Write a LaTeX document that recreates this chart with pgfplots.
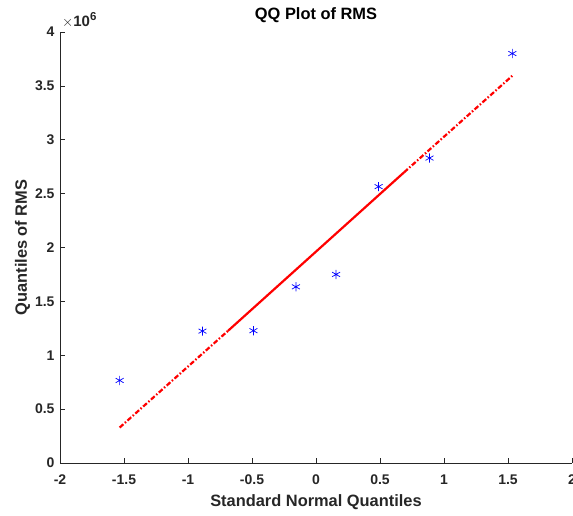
\documentclass[border=0pt]{standalone}
\usepackage{fontspec}
\setmainfont{Liberation Sans}
\usepackage{pgfplots}
\pgfplotsset{compat=1.18}
\definecolor{axgray}{RGB}{38,38,38}
\begin{document}
\begin{tikzpicture}[x=1pt,y=1pt]
\useasboundingbox (0,0) rectangle (573,516);
\begin{axis}[
  at={(60pt,53pt)}, anchor=south west,
  scale only axis, width=512pt, height=431pt,
  xmin=-2, xmax=2, ymin=0, ymax=4,
  axis x line*=bottom, axis y line*=left,
  axis line style={axgray, line width=0.6pt},
  tick style={axgray, line width=0.6pt},
  tick align=inside, major tick length=5pt,
  xtick={-2,-1.5,-1,-0.5,0,0.5,1,1.5,2},
  xticklabels={-2,-1.5,-1,-0.5,0,0.5,1,1.5,2},
  ytick={0,0.5,1,1.5,2,2.5,3,3.5,4},
  yticklabels={0,0.5,1,1.5,2,2.5,3,3.5,4},
  ticklabel style={font=\bfseries\fontsize{14}{14}\selectfont, text=axgray},
  xticklabel style={yshift=-8pt},
  yticklabel style={xshift=-2pt},
  title={QQ Plot of RMS},
  title style={font=\bfseries\fontsize{16.4}{16.4}\selectfont, text=black, at={(axis description cs:0.5,1)}, anchor=base, yshift=6pt},
  xlabel={Standard Normal Quantiles},
  ylabel={Quantiles of RMS},
  label style={font=\bfseries\fontsize{16.4}{16.4}\selectfont, text=axgray},
  xlabel style={at={(axis description cs:0.5,0)}, anchor=base, yshift=-43.5pt},
  ylabel style={at={(axis description cs:-0.0645,0.5)}, anchor=base, rotate=0},
  clip=false,
]
\addplot[only marks, mark=asterisk, mark size=4.6pt, color=blue, mark options={line width=0.7pt}] coordinates {
(-1.534,0.766) (-0.887,1.224) (-0.489,1.228) (-0.157,1.635) (0.157,1.75) (0.489,2.565) (0.887,2.83) (1.534,3.80)
};
\addplot[red, line width=2.2pt] coordinates {(-0.688,1.226) (0.688,2.6975)};
\addplot[red, line width=2.2pt, dash pattern=on 5pt off 2pt on 1.5pt off 2pt] coordinates {(-1.534,0.329) (-0.688,1.226)};
\addplot[red, line width=2.2pt, dash pattern=on 5pt off 2pt on 1.5pt off 2pt] coordinates {(0.688,2.6975) (1.534,3.594)};
\node[anchor=base west, inner sep=0pt, text=axgray, font=\bfseries\fontsize{15}{15}\selectfont] at (rel axis cs:0,1) [yshift=5pt, xshift=2pt] {$\times$10\raisebox{6pt}{\fontsize{11.5}{11.5}\selectfont 6}};
\end{axis}
\end{tikzpicture}
\end{document}
